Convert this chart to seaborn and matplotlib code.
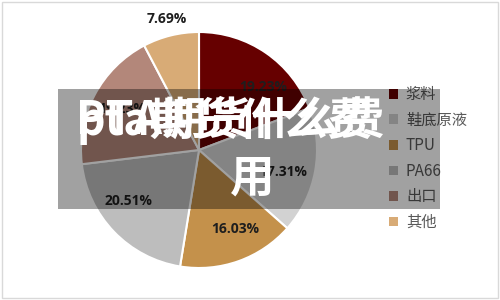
import matplotlib
matplotlib.use("Agg")
import matplotlib.pyplot as plt
import seaborn as sns
import numpy as np
from matplotlib.patches import Rectangle, Patch

sns.set_theme(style="white")
plt.rcParams['font.family'] = ['Noto Sans CJK SC', 'DejaVu Sans']

categories = ["浆料", "鞋底原液", "TPU", "PA66", "出口", "其他"]
values = [19.23, 17.31, 16.03, 20.51, 19.23, 7.69]
pct_labels = ["19.23%", "17.31%", "16.03%", "20.51%", "19.23%", "7.69%"]
title_line1_a = "PTA期货什么费"
title_line1_b = "pta期货什么费"
title_line2 = "用"

colors = sns.color_palette(["#660000", "#d2d2d2", "#c4914b", "#bdbdbd", "#b3877a", "#d8ab76"])
# label placement style: radial distance and clockwise angle shift (degrees)
label_dist = [0.76, 0.74, 0.74, 0.74, 0.74, 1.14]
label_shift = [11, 4, -5, 8, 0, 0]

W, H = 500, 300
fig = plt.figure(figsize=(5, 3), dpi=100)
fig.patch.set_facecolor("white")

# outer border
fig.add_artist(Rectangle((2 / W, 2 / H), 496 / W, 296 / H, transform=fig.transFigure,
                         fill=False, edgecolor="#d9d9d9", linewidth=1))

cx, cy, r = 199, 150, 118
ax = fig.add_axes([(cx - r) / W, (H - cy - r) / H, 2 * r / W, 2 * r / H])
wedges, _ = ax.pie(values, colors=colors, startangle=90, counterclock=False,
                   wedgeprops=dict(edgecolor="white", linewidth=1.5), radius=1)
ax.set_xlim(-1, 1)
ax.set_ylim(-1, 1)
ax.axis("off")

for w, lab, d, s in zip(wedges, pct_labels, label_dist, label_shift):
    ang = np.deg2rad((w.theta1 + w.theta2) / 2 - s)
    ax.text(d * np.cos(ang), d * np.sin(ang), lab, ha="center", va="center",
            fontsize=10, fontweight="bold", color="#1e1e1e",
            family=["Open Sans", "DejaVu Sans"])

handles = [Patch(facecolor=c, edgecolor="none") for c in colors]
leg = fig.legend(handles, categories, loc="upper left",
                 bbox_to_anchor=(383 / W, 1 - 80 / H), frameon=False,
                 fontsize=11, handlelength=0.6, handleheight=0.6,
                 handletextpad=0.5, labelspacing=0.56, borderaxespad=0)
for t in leg.get_texts():
    t.set_color("#595959")

# overlay band
fig.add_artist(Rectangle((58 / W, 1 - 209 / H), 382 / W, 120 / H, transform=fig.transFigure,
                         facecolor="black", alpha=0.37, edgecolor="none", zorder=10))

for txt in (title_line1_a, title_line1_b):
    fig.text(76 / W, 1 - 121 / H, txt, ha="left", va="center", color="white",
             fontsize=32, fontweight="bold", zorder=11)
fig.text(252 / W, 1 - 179 / H, title_line2, ha="center", va="center", color="white",
         fontsize=32, fontweight="bold", zorder=11)

fig.savefig("out.png", dpi=100, facecolor="white")
